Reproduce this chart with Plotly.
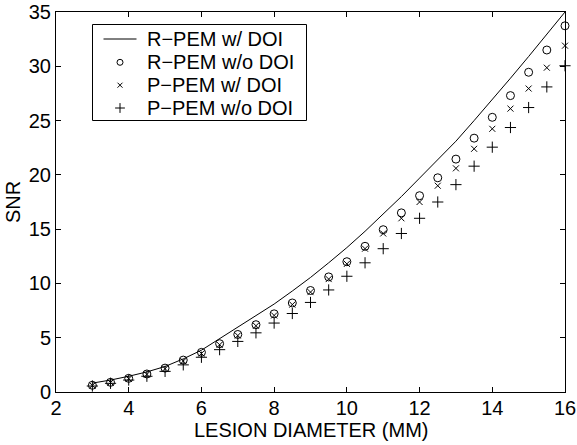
import plotly.graph_objects as go

# Lesion diameters (mm)
diameter = [3.0, 3.5, 4.0, 4.5, 5.0, 5.5, 6.0, 6.5, 7.0, 7.5, 8.0, 8.5, 9.0, 9.5,
            10.0, 10.5, 11.0, 11.5, 12.0, 12.5, 13.0, 13.5, 14.0, 14.5, 15.0, 15.5, 16.0]

# SNR for each system configuration
r_pem_doi = [0.82, 1.10, 1.45, 1.85, 2.35, 3.05, 3.85, 4.90, 5.95, 7.00, 8.10, 9.30, 10.55, 11.90,
             13.30, 14.80, 16.40, 18.00, 19.70, 21.40, 23.10, 25.00, 26.90, 28.90, 30.90, 32.90, 35.00]
r_pem_nodoi = [0.62, 0.89, 1.26, 1.66, 2.20, 2.94, 3.65, 4.45, 5.30, 6.20, 7.20, 8.20, 9.35, 10.60,
               12.00, 13.42, 14.95, 16.50, 18.08, 19.73, 21.45, 23.38, 25.30, 27.30, 29.45, 31.50, 33.73]
p_pem_doi = [0.60, 0.87, 1.22, 1.62, 2.15, 2.85, 3.55, 4.35, 5.20, 6.10, 7.05, 8.05, 9.20, 10.40,
             11.80, 13.20, 14.60, 16.00, 17.50, 19.00, 20.60, 22.40, 24.24, 26.10, 27.95, 29.87, 31.90]
p_pem_nodoi = [0.55, 0.80, 1.10, 1.45, 1.90, 2.50, 3.20, 3.90, 4.66, 5.45, 6.35, 7.23, 8.25, 9.40,
               10.66, 11.90, 13.20, 14.60, 16.00, 17.50, 19.10, 20.80, 22.55, 24.36, 26.20, 28.10, 30.05]

series_names = ["R\u2212PEM w/ DOI", "R\u2212PEM w/o DOI", "P\u2212PEM w/ DOI", "P\u2212PEM w/o DOI"]

x_ticks = [2, 4, 6, 8, 10, 12, 14, 16]
y_ticks = [0, 5, 10, 15, 20, 25, 30, 35]
x_title = "LESION DIAMETER (MM)"
y_title = "SNR"

W, H = 577, 445
ML, MR, MT, MB = 56, 12, 12, 53
FONT = "Liberation Sans, Arial, Helvetica, sans-serif"
FS = 20
LEG_FS = 20
PLOT_H = H - MT - MB

fig = go.Figure()

fig.add_trace(go.Scatter(x=diameter, y=r_pem_doi, mode="lines",
                         line=dict(color="black", width=1), name=series_names[0],
                         showlegend=False))
fig.add_trace(go.Scatter(x=diameter, y=r_pem_nodoi, mode="markers",
                         marker=dict(symbol="circle-open", size=8, color="black",
                                     line=dict(width=1, color="black")),
                         name=series_names[1], showlegend=False, cliponaxis=False))
fig.add_trace(go.Scatter(x=diameter, y=p_pem_doi, mode="markers",
                         marker=dict(symbol="x-thin-open", size=6, color="black",
                                     line=dict(width=1, color="black")),
                         name=series_names[2], showlegend=False, cliponaxis=False))
fig.add_trace(go.Scatter(x=diameter, y=p_pem_nodoi, mode="markers",
                         marker=dict(symbol="cross-thin-open", size=8, color="black",
                                     line=dict(width=1, color="black")),
                         name=series_names[3], showlegend=False, cliponaxis=False))

# Legend box drawn on a pixel-mapped overlay axis pair
px_left, px_right = ML, W - MR
px_top, px_bottom = MT, H - MB
leg_x0, leg_x1, leg_y0, leg_y1 = 92.5, 306.5, 24.5, 120.5
row_y = [39.0, 62.3, 85.2, 108.0]
sym_x = 120.0
text_x = 145.5

fig.add_shape(type="rect", xref="x2", yref="y2", x0=leg_x0, x1=leg_x1, y0=leg_y0, y1=leg_y1,
              line=dict(color="black", width=1), fillcolor="rgba(0,0,0,0)", layer="above")
fig.add_shape(type="line", xref="x2", yref="y2", x0=103.5, x1=136.5, y0=row_y[0], y1=row_y[0],
              line=dict(color="black", width=1), layer="above")

legend_symbols = ["circle-open", "x-thin-open", "cross-thin-open"]
legend_sizes = [6, 5, 7]
for sym, sz, yy in zip(legend_symbols, legend_sizes, row_y[1:]):
    fig.add_trace(go.Scatter(x=[sym_x], y=[yy], xaxis="x2", yaxis="y2", mode="markers",
                             marker=dict(symbol=sym, size=sz, color="black",
                                         line=dict(width=1, color="black")),
                             showlegend=False, hoverinfo="skip", cliponaxis=False))

for name, yy in zip(series_names, row_y):
    fig.add_annotation(x=text_x, y=yy, xref="x2", yref="y2", text=name, showarrow=False,
                       xanchor="left", yanchor="middle", borderpad=0,
                       font=dict(family=FONT, size=LEG_FS, color="black"))

# x-axis title placed below the tick labels (paper units, 38 px under the axis)
fig.add_annotation(x=0.5, y=-38.0 / PLOT_H, xref="paper", yref="paper", text=x_title,
                   showarrow=False, xanchor="center", yanchor="middle", borderpad=0,
                   font=dict(family=FONT, size=FS, color="black"))

axis_common = dict(showgrid=False, zeroline=False, showline=True, linecolor="black",
                   linewidth=1, mirror="ticks", ticks="inside", ticklen=5, tickwidth=1,
                   tickcolor="black", automargin=False,
                   tickfont=dict(family=FONT, size=FS, color="black"))

fig.update_layout(
    width=W, height=H,
    margin=dict(l=ML, r=MR, t=MT, b=MB, pad=0, autoexpand=False),
    paper_bgcolor="white", plot_bgcolor="white",
    font=dict(family=FONT, size=FS, color="black"),
    xaxis=dict(range=[2, 16], tickvals=x_ticks, ticktext=[str(v) for v in x_ticks],
               ticklabelstandoff=-2, **axis_common),
    yaxis=dict(range=[0, 35], tickvals=y_ticks, ticktext=[str(v) for v in y_ticks],
               title=dict(text=y_title, standoff=2, font=dict(family=FONT, size=FS)),
               **axis_common),
    xaxis2=dict(range=[px_left, px_right], overlaying="x", visible=False, fixedrange=True,
                automargin=False),
    yaxis2=dict(range=[px_bottom, px_top], overlaying="y", visible=False, fixedrange=True,
                automargin=False),
    showlegend=False,
)

fig.write_html("out.html")
